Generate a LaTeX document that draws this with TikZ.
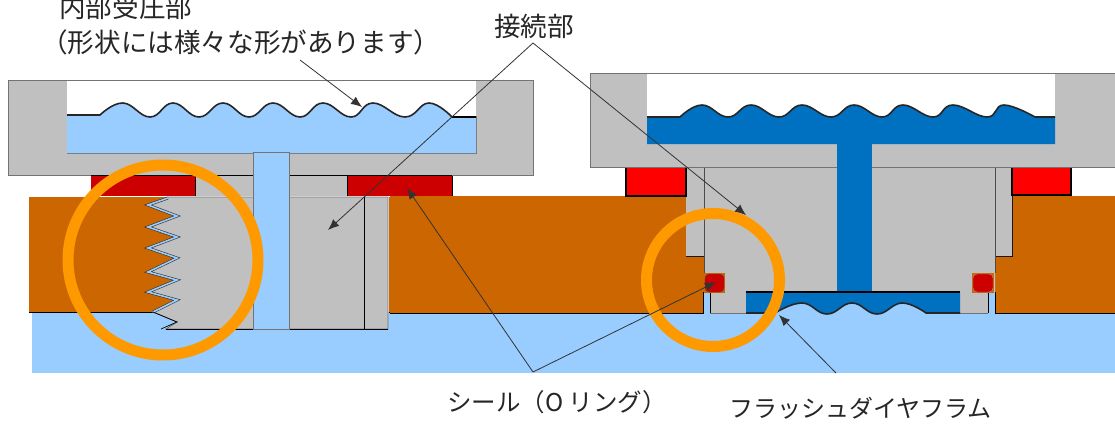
\documentclass[tikz,border=0pt]{standalone}
\usepackage{fontspec}
\setmainfont{Noto Sans CJK JP}
\usepackage{tikz}
\usetikzlibrary{positioning,arrows.meta}
\definecolor{bodygray}{HTML}{C0C0C0}
\definecolor{lightfluid}{HTML}{99CCFF}
\definecolor{darkfluid}{HTML}{0070C0}
\definecolor{flange}{HTML}{CC6600}
\definecolor{sealred}{HTML}{CC0000}
\definecolor{ringorange}{HTML}{FF9900}
\tikzset{
    label/.style = {font=\fontsize{26.6}{27}\selectfont, inner sep=0pt, text=black!85},
    smalllabel/.style = {label, font=\fontsize{24.5}{25}\selectfont},
    part/.style = {draw=black!55, line width=.9pt},
    film/.style = {draw=black!85, line width=1.6pt, line join=round},
    wave/.style = {smooth, tension=.75},
    pointer/.style = {draw=black!80, line width=.8pt, -{Latex[length=11pt,width=9pt]}},
    marker/.style = {draw=ringorange, line width=11pt},
}
\begin{document}
\begin{tikzpicture}[x=1pt, y=-1pt]
    \useasboundingbox (0,0) rectangle (1115,423);
    % process side
    \fill[lightfluid] (32,312) rectangle (1115,373);
    % left: threaded type
    \fill[flange] (29,197) -- (168,197) -- (148,205) -- (177,216) -- (148,227) -- (177,237) -- (148,248) -- (177,258) -- (148,272) -- (177,280) -- (148,292) -- (177,300) -- (153,312) -- (29,312) -- cycle;
    \fill[flange] (389,197) rectangle (703,312);
    \draw[black, line width=.9pt] (29,312) -- (153,312);
    \draw[black, line width=.9pt] (389,312) -- (703,312);
    \filldraw[part, fill=bodygray] (168,197) -- (388,197) -- (388,329) -- (166,329) -- (177,322) -- (153,312) -- (177,300) -- (148,292) -- (177,280) -- (148,272) -- (177,258) -- (148,248) -- (177,237) -- (148,227) -- (177,216) -- (148,205) -- cycle;
    \draw[black, line width=.9pt] (166,329) -- (388,329);
    \draw[black, line width=.8pt] (364,197) -- (364,329);
    \draw[black!80, double=lightfluid, double distance=1.6pt, line width=.6pt] (168,198) -- (148,205) -- (177,216) -- (148,227) -- (177,237) -- (148,248) -- (177,258) -- (148,272) -- (177,280) -- (148,292) -- (177,300) -- (153,312);
    \draw[black, line width=.7pt] (153,312) -- (177,322) -- (161,329);
    \fill[bodygray] (195,175) rectangle (347,196);
    \fill[sealred] (91,175) rectangle (195,196);
    \fill[sealred] (347,175) rectangle (452,196);
    \draw[black, line width=.6pt] (195,175) -- (195,196);
    \draw[black, line width=.6pt] (452,175) -- (452,196);
    \draw[black, line width=.6pt] (347,175) -- (347,196);
    \filldraw[part, fill=bodygray] (8,80) rectangle (533,175);
    \draw[black, line width=.8pt] (91,175) -- (452,175);
    \fill[white] (67,81) rectangle (476,116);
    \filldraw[part, fill=lightfluid] (67,116) -- (67,153) -- (476,153) -- (476,116);
    \fill[lightfluid] (67,153) -- (67,115) -- (100,115) -- plot[wave] coordinates {(100,115) (123,103) (150,117) (173,103) (199,117) (223,103) (249,117) (273,103) (300,117) (323,103) (351,117) (373,103) (405,117) (429,103) (452,117)} -- (476,117) -- (476,153) -- cycle;
    \draw[film] (67,115) -- (100,115) -- plot[wave] coordinates {(100,115) (123,103) (150,117) (173,103) (199,117) (223,103) (249,117) (273,103) (300,117) (323,103) (351,117) (373,103) (405,117) (429,103) (452,117)};
    \draw[black, line width=2.5pt] (452,117) -- (476,117);
    \filldraw[part, fill=lightfluid] (253,152) rectangle (289,329);
    % right: flush type
    \fill[flange] (686,196) -- (686,256) -- (704,256) -- (704,313) -- (390,313) -- (390,196) -- cycle;
    \fill[flange] (1012,196) -- (1012,256) -- (995,256) -- (995,313) -- (1115,313) -- (1115,196) -- cycle;
    \draw[black, line width=.8pt] (686,196) -- (686,256) -- (704,256);
    \draw[black, line width=.8pt] (703,292) -- (703,313) -- (390,313);
    \draw[black, line width=.8pt] (1012,196) -- (1012,256) -- (995,256);
    \draw[black, line width=.8pt] (995,292) -- (995,313) -- (1115,313);
    \fill[bodygray] (686,167) -- (1012,167) -- (1012,256) -- (995,256) -- (995,292) -- (988,292) -- (988,313) -- (710,313) -- (710,292) -- (704,292) -- (704,256) -- (686,256) -- cycle;
    \fill[lightfluid] (703.5,292) rectangle (710,313);
    \fill[lightfluid] (988,292) rectangle (994.5,313);
    \draw[black!70, line width=.8pt] (704,167) -- (704,273);
    \draw[black!70, line width=.8pt] (995,167) -- (995,273);
    \draw[black, line width=.7pt] (710,292) -- (710,313);
    \draw[black, line width=.7pt] (988,292) -- (988,313);
    \draw[black!55, line width=1pt] (710,313) -- (746,313);
    \draw[black!55, line width=1pt] (960,313) -- (988,313);
    \fill[flange] (704,273) rectangle (725,293);
    \fill[flange] (972,273) rectangle (994,293);
    \filldraw[draw=black!70, fill=sealred, rounded corners=4pt] (705,274) rectangle (724,292);
    \filldraw[draw=black!40, fill=sealred, rounded corners=4pt] (973,274) rectangle (993,292);
    \filldraw[draw=black, line width=1.6pt, fill=red] (626,167) rectangle (686,196);
    \filldraw[draw=black, line width=1.6pt, fill=red] (1012,166) rectangle (1071,195);
    \filldraw[part, fill=bodygray] (590,73) rectangle (1115,167);
    \fill[white] (647,74) rectangle (1055,116);
    \fill[darkfluid] (647,144) -- (647,117) -- (680,117) -- plot[wave] coordinates {(680,117) (702,105) (728,117) (751,105) (779,117) (802,105) (831,117) (854,105) (882,117) (903,105) (933,117) (953,105) (987,117) (1004,105) (1035,117)} -- (1055,117) -- (1055,144) -- cycle;
    \draw[film] (647,117) -- (680,117) -- plot[wave] coordinates {(680,117) (702,105) (728,117) (751,105) (779,117) (802,105) (831,117) (854,105) (882,117) (903,105) (933,117) (953,105) (987,117) (1004,105) (1035,117)} -- (1055,117);
    \fill[darkfluid] (837,144) rectangle (872,292);
    \fill[lightfluid] (746,292) rectangle (960,314);
    \fill[darkfluid] (746,292) -- (960,292) -- (960,313) -- (926,313) -- plot[wave] coordinates {(926,313) (902,303) (877,314) (852,303) (827,314) (802,303) (775,313)} -- (746,313) -- cycle;
    \draw[black, line width=1.4pt] (746,292) -- (960,292);
    \draw[film] (746,313) -- (775,313) -- plot[wave] coordinates {(775,313) (802,303) (827,314) (852,303) (877,314) (902,303) (926,313)} -- (960,313);
    % markers
    \node[marker, circle, minimum size=190pt, inner sep=0pt] (threadring) at (163,260) {};
    \node[marker, circle, minimum size=133pt, inner sep=0pt] (oring) at (713,280) {};
    % labels
    \node[label, anchor=west] (recvlabel) at (59,7) {内部受圧部};
    \node[label, anchor=west] (shapelabel) at (41,42) {（形状には様々な形があります）};
    \node[label, anchor=west] (jointlabel) at (494,26) {接続部};
    \node[smalllabel, anchor=west] (seallabel) at (447,402) {シール（O リング）};
    \node[smalllabel, anchor=west, font=\fontsize{24}{25}\selectfont] (flushlabel) at (729,408) {フラッシュダイヤフラム};
    % pointers
    \coordinate (shapetail) at (300,60);
    \coordinate (shapetip) at (362,107);
    \coordinate (jointapex) at (533,43);
    \coordinate (jointleft) at (328,230);
    \coordinate (jointright) at (746,215);
    \coordinate (sealapex) at (533,372);
    \coordinate (sealleft) at (407,188);
    \coordinate (sealright) at (716,282);
    \coordinate (flushtail) at (836,373);
    \coordinate (flushtip) at (779,315);
    \draw[pointer] (shapetail) -- (shapetip);
    \draw[pointer] (jointapex) -- (jointleft);
    \draw[pointer] (jointapex) -- (jointright);
    \draw[pointer] (sealapex) -- (sealleft);
    \draw[pointer] (sealapex) -- (sealright);
    \draw[pointer] (flushtail) -- (flushtip);
\end{tikzpicture}
\end{document}
